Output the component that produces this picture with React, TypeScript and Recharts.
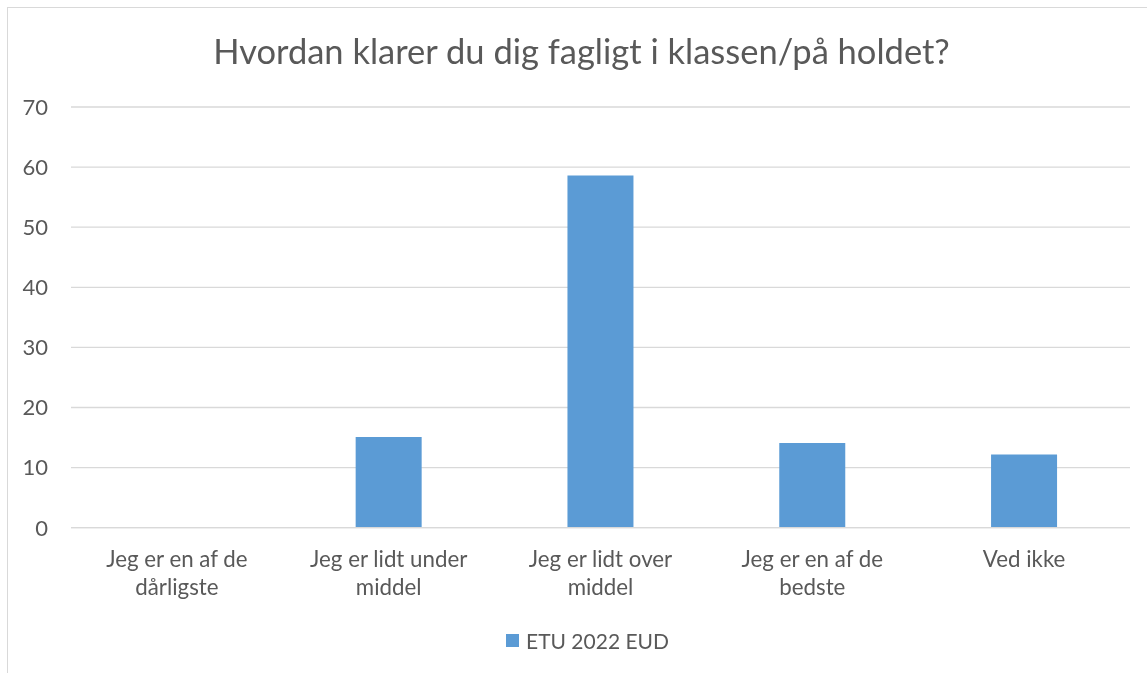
import { Bar, BarChart, CartesianGrid, Legend, XAxis, YAxis } from "recharts"

const categories = [
  "Jeg er en af de dårligste",
  "Jeg er lidt under middel",
  "Jeg er lidt over middel",
  "Jeg er en af de bedste",
  "Ved ikke",
]
const etu2022Eud = [0, 15.1, 58.6, 14.1, 12.2]
const yTicks = [0, 10, 20, 30, 40, 50, 60, 70]
const seriesName = "ETU 2022 EUD"
const title = "Hvordan klarer du dig fagligt i klassen/på holdet?"

const data = categories.map((c, i) => ({ category: c, value: etu2022Eud[i] }))

const TEXT = "#595959"
const FONT = "Lato, 'Open Sans', sans-serif"

function wrapWords(label: string, max: number) {
  const lines: string[] = []
  let cur = ""
  for (const w of label.split(" ")) {
    const next = cur ? cur + " " + w : w
    if (next.length > max && cur) {
      lines.push(cur)
      cur = w
    } else cur = next
  }
  if (cur) lines.push(cur)
  return lines
}

function CategoryTick(props: any) {
  const { x, y, payload } = props
  const lines = wrapWords(payload.value, 17)
  return (
    <text x={x} y={y} textAnchor="middle" fill={TEXT} fontSize={22.3} fontFamily={FONT}>
      {lines.map((l, i) => (
        <tspan key={i} x={x} dy={i === 0 ? 39 : 28}>
          {l}
        </tspan>
      ))}
    </text>
  )
}

function LegendContent(props: any) {
  const items = props.payload || []
  return (
    <div style={{ display: "flex", justifyContent: "center", alignItems: "center", fontFamily: FONT, fontSize: 21, color: TEXT }}>
      {items.map((it: any) => (
        <div key={it.value} style={{ display: "flex", alignItems: "center" }}>
          <span style={{ width: 13, height: 13, background: it.color, marginRight: 7, display: "inline-block" }} />
          <span>{it.value}</span>
        </div>
      ))}
    </div>
  )
}

export default function App() {
  return (
    <div style={{ position: "relative", width: 1139, height: 665 }}>
      {/* chart area frame, runs off the right and bottom edge like the source */}
      <div
        style={{
          position: "fixed",
          left: 7,
          top: 7,
          width: 1200,
          height: 700,
          border: "1.5px solid #d9d9d9",
          boxSizing: "border-box",
          pointerEvents: "none",
        }}
      />
      <div
        style={{
          position: "absolute",
          top: 26,
          left: 573.5 - 500,
          width: 1000,
          textAlign: "center",
          fontFamily: FONT,
          fontSize: 34.5,
          lineHeight: 1,
          color: TEXT,
          whiteSpace: "nowrap",
        }}
      >
        {title}
      </div>
      <div style={{ position: "absolute", top: 0, left: 0 }}>
        <BarChart width={1139} height={665} data={data} margin={{ top: 99, right: 17, bottom: 45.3, left: 0 }} barCategoryGap="34.4%">
          <CartesianGrid vertical={false} stroke="#d9d9d9" strokeWidth={1.3} />
          <XAxis
            dataKey="category"
            height={100}
            tick={<CategoryTick />}
            tickLine={false}
            axisLine={{ stroke: "#d9d9d9", strokeWidth: 1.3 }}
            tickSize={0}
            tickMargin={0}
            interval={0}
          />
          <YAxis
            width={63}
            domain={[0, 70]}
            ticks={yTicks}
            tick={{ fontSize: 22, fill: TEXT, fontFamily: FONT }}
            tickLine={false}
            axisLine={false}
            tickSize={0}
            tickMargin={23}
          />
          <Legend
            layout="horizontal"
            verticalAlign="middle"
            align="center"
            content={<LegendContent />}
            wrapperStyle={{ top: 620, left: 0, width: 1159 }}
          />
          <Bar dataKey="value" name={seriesName} fill="#5B9BD5" isAnimationActive={false} />
        </BarChart>
      </div>
    </div>
  )
}
